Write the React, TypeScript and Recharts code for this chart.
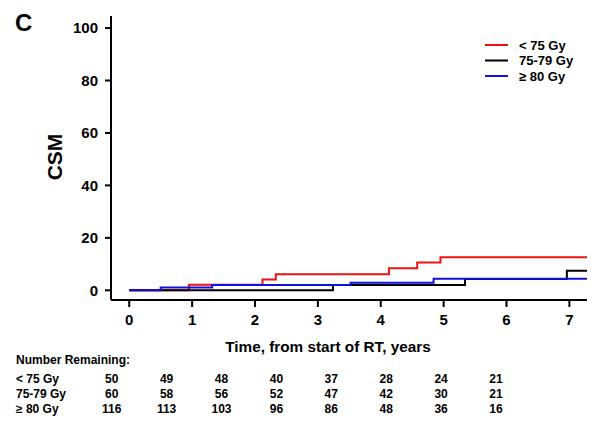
import { Line, LineChart, XAxis, YAxis } from "recharts";

// Kaplan-Meier style step curves
const redTimes = [0, 0.95, 2.12, 2.33, 4.13, 4.58, 4.95, 7.28];
const redCSM = [0, 2.1, 4.1, 6.1, 8.4, 10.6, 12.6, 12.6];
const blackTimes = [0, 3.24, 5.34, 6.96, 7.28];
const blackCSM = [0, 2.0, 4.3, 7.5, 7.5];
const blueTimes = [0, 0.5, 1.32, 3.52, 4.84, 7.28];
const blueCSM = [0, 1.1, 2.0, 2.9, 4.4, 4.4];

const seriesNames = ["< 75 Gy", "75-79 Gy", "≥ 80 Gy"];
const seriesColors = ["#ee1111", "#000000", "#1111dd"];

const xTicks = [0, 1, 2, 3, 4, 5, 6, 7];
const yTicks = [0, 20, 40, 60, 80, 100];

const remainingRed = [50, 49, 48, 40, 37, 28, 24, 21];
const remainingBlack = [60, 58, 56, 52, 47, 42, 30, 21];
const remainingBlue = [116, 113, 103, 96, 86, 48, 36, 16];

const font = "'Liberation Sans', Arial, sans-serif";

const toPoints = (t: number[], v: number[]) => t.map((time, i) => ({ time, csm: v[i] }));

const series = [
  { name: seriesNames[0], color: seriesColors[0], data: toPoints(redTimes, redCSM) },
  { name: seriesNames[1], color: seriesColors[1], data: toPoints(blackTimes, blackCSM) },
  { name: seriesNames[2], color: seriesColors[2], data: toPoints(blueTimes, blueCSM) },
];

const tableRows = [remainingRed, remainingBlack, remainingBlue];

export default function App() {
  return (
    <div style={{ position: "absolute", left: 0, top: 0, width: 600, height: 427, background: "#fff", fontFamily: font }}>
      <LineChart width={600} height={427} margin={{ top: 16, right: 13, left: 51, bottom: 97 }}>
        <XAxis
          type="number"
          dataKey="time"
          domain={[-0.29, 7.28]}
          ticks={xTicks}
          allowDataOverflow
          stroke="#000"
          strokeWidth={2}
          tickSize={7}
          tickMargin={7}
          height={30}
          tick={{ fill: "#000", fontSize: 15, fontWeight: "bold", fontFamily: font }}
        />
        <YAxis
          type="number"
          domain={[-3.7, 104.6]}
          ticks={yTicks}
          allowDataOverflow
          stroke="#000"
          strokeWidth={2}
          width={60}
          tickSize={6}
          tickMargin={7}
          tick={{ fill: "#000", fontSize: 15, fontWeight: "bold", fontFamily: font }}
        />
        {series.map((s) => (
          <Line
            key={s.name}
            data={s.data}
            dataKey="csm"
            name={s.name}
            type="stepAfter"
            stroke={s.color}
            strokeWidth={2}
            dot={false}
            activeDot={false}
            isAnimationActive={false}
          />
        ))}
      </LineChart>
      <svg width={600} height={427} style={{ position: "absolute", left: 0, top: 0, pointerEvents: "none" }}>
        <text x={15} y={31} fontSize={24} fontWeight="bold" fontFamily={font} fill="#000">
          C
        </text>
        <text
          x={62}
          y={157}
          transform="rotate(-90 62 157)"
          textAnchor="middle"
          fontSize={21}
          fontWeight="bold"
          fontFamily={font}
          fill="#000"
        >
          CSM
        </text>
        {series.map((s, i) => (
          <g key={s.name} transform={`translate(485, ${45 + i * 15.5})`}>
            <line x1={0} x2={23} y1={0} y2={0} stroke={s.color} strokeWidth={2} />
            <text x={34} y={4.5} fontSize={13} fontWeight="bold" fontFamily={font} fill="#000">
              {s.name}
            </text>
          </g>
        ))}
        <text x={328} y={351.5} textAnchor="middle" fontSize={15.3} fontWeight="bold" fontFamily={font} fill="#000">
          Time, from start of RT, years
        </text>
        <text x={16} y={364} fontSize={12} fontWeight="bold" fontFamily={font} fill="#000">
          Number Remaining:
        </text>
        {tableRows.map((row, r) => (
          <g key={seriesNames[r]}>
            <text x={16} y={382.5 + r * 15} fontSize={12} fontWeight="bold" fontFamily={font} fill="#000">
              {seriesNames[r]}
            </text>
            {row.map((n, i) => (
              <text
                key={i}
                x={111.7 + i * 54.9}
                y={382.5 + r * 15}
                textAnchor="middle"
                fontSize={12}
                fontWeight="bold"
                fontFamily={font}
                fill="#000"
              >
                {n}
              </text>
            ))}
          </g>
        ))}
      </svg>
    </div>
  );
}
